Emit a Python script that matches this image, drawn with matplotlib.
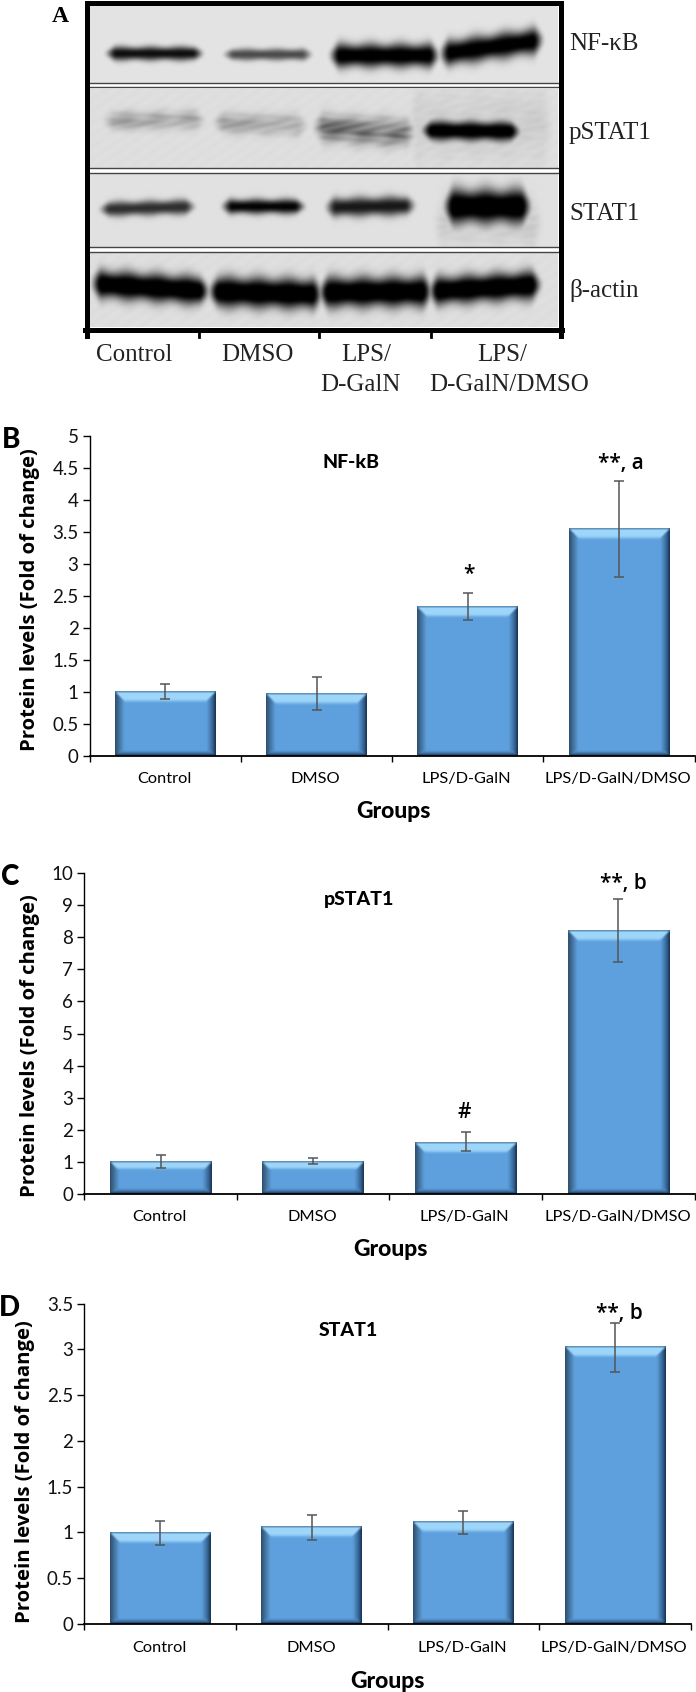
import matplotlib
matplotlib.use("Agg")
import matplotlib.pyplot as plt
import numpy as np

W, H = 696, 1692

# bar panels
groups = ["Control", "DMSO", "LPS/D-GalN", "LPS/D-GalN/DMSO"]
nfkb = [1.0, 0.97, 2.33, 3.55]
nfkb_hi = [1.12, 1.23, 2.55, 4.30]
nfkb_lo = [0.89, 0.72, 2.13, 2.80]
pstat = [1.0, 1.0, 1.62, 8.21]
pstat_hi = [1.20, 1.10, 1.93, 9.19]
pstat_lo = [0.80, 0.92, 1.33, 7.22]
stat = [1.0, 1.06, 1.115, 3.03]
stat_hi = [1.13, 1.19, 1.24, 3.29]
stat_lo = [0.865, 0.92, 0.985, 2.755]
nfkb_ticks = [0, 0.5, 1, 1.5, 2, 2.5, 3, 3.5, 4, 4.5, 5]
pstat_ticks = list(range(11))
stat_ticks = [0, 0.5, 1, 1.5, 2, 2.5, 3, 3.5]

# blot bands: lane start, lane end, y left, y right, half height, darkness
nfkb_bands = [(102, 206, 53, 53, 6.5, .95), (220, 315, 54, 54, 5.5, .68),
              (326, 442, 55, 55, 11, 1.1), (436, 546, 54, 39, 12, 1.1)]
pstat_bands = [(100, 208, 120, 120, 9, .24), (210, 310, 122, 125, 10, .24),
               (310, 418, 127, 133, 13, .45), (405, 555, 125, 125, 36, .07),
               (418, 523, 130, 131, 9, 1.15)]
stat_bands = [(96, 198, 209, 206, 7, .8), (218, 308, 206, 206, 7, 1.0),
              (322, 418, 207, 205, 9, .9), (430, 545, 222, 222, 24, .09),
              (440, 534, 206, 206, 16, 1.2)]
actin_bands = [(88, 212, 283, 291, 13, 1.2), (205, 325, 291, 294, 14, 1.2),
               (315, 435, 292, 291, 14, 1.2), (425, 544, 291, 284, 13, 1.2)]
# strip top, strip bottom, background grey
strips = [(6, 83, .89, nfkb_bands), (89, 168, .87, pstat_bands),
          (174, 247, .88, stat_bands), (253, 327, .87, actin_bands)]
lane_ticks = [87.5, 199, 319, 430.5, 561]


def smooth(t):
    t = np.clip(t, 0, 1)
    return t * t * (3 - 2 * t)


def blur(a, n=2):
    # repeated 3x3 box filter, works on 2d and on rgb arrays
    for _ in range(n):
        p = np.pad(a, [(1, 1), (1, 1)] + [(0, 0)] * (a.ndim - 2), mode="edge")
        a = sum(p[1 + dy:p.shape[0] - 1 + dy, 1 + dx:p.shape[1] - 1 + dx]
                for dy in (-1, 0, 1) for dx in (-1, 0, 1)) / 9
    return a


plt.rcParams['font.family'] = ['Lato', 'DejaVu Sans']
fig = plt.figure(figsize=(W / 100, H / 100), dpi=100)

# full page axes in pixels, for the blot and its labels
page = fig.add_axes([0, 0, 1, 1])
page.set_xlim(0, W)
page.set_ylim(H, 0)
page.axis("off")

x0, x1 = 89, 558
for top, bottom, grey, bands in strips:
    yy, xx = np.mgrid[top:bottom, x0:x1].astype(float)
    # mottled film texture
    tex = (np.sin(xx * 0.9 + yy * 1.7) + np.sin(xx * 2.3 - yy * 0.8)
           + np.sin(xx * 0.37 + yy * 0.53)) / 3
    patches = np.sin(xx * 0.13 + np.sin(yy * 0.3) * 2) * np.sin(yy * 0.41 + xx * 0.07)
    dens = np.zeros_like(xx)
    for a, b, ya, yb, hh, d in bands:
        yc = ya + (yb - ya) * (xx - a) / (b - a)
        along = smooth((xx - a) / 14) * smooth((b - xx) / 14)
        wob = 1 + 0.08 * np.sin(xx * 0.21 + a)
        across = np.exp(-(np.abs(yy - yc) / (hh * wob * (0.45 + 0.55 * along))) ** 2.4)
        mott = 1 + (0.4 * patches if d < 0.5 else 0)
        dens = np.maximum(dens, d * across * along * mott)
    dens = np.clip(dens, 0, 1)
    amount = 0.018 if grey < 0.88 else 0.004
    img = blur((grey + amount * tex) * (1 - dens))
    page.imshow(img, cmap="gray", vmin=0, vmax=1, aspect="auto",
                extent=(x0, x1, bottom, top), interpolation="bilinear", zorder=1)
page.set_xlim(0, W)
page.set_ylim(H, 0)

for y in [83.5, 87.5, 168.5, 173.5, 247.5, 252.5]:
    page.plot([x0, x1], [y, y], color="#444444", lw=1.0, zorder=2)
page.plot([86.5, 86.5, 560.5, 560.5], [336, 3, 3, 336], color="black", lw=3.6, zorder=3,
          solid_joinstyle="miter")
page.plot([85, 562], [330, 330], color="black", lw=3.6, zorder=3)
for x in lane_ticks:
    page.plot([x, x], [330, 337], color="black", lw=2, zorder=3)

serif = "Liberation Serif"
page.text(60, 17, "A", family=serif, weight="bold", fontsize=17, ha="center", va="center")
for name, y in [("NF-κB", 44), ("pSTAT1", 133), ("STAT1", 214), ("β-actin", 290)]:
    page.text(569, y, name, family=serif, fontsize=18, ha="left", va="center", color="#222222")
for name, x, y in [("Control", 134, 355), ("DMSO", 257, 355), ("LPS/", 366, 355),
                   ("D-GalN", 360, 385), ("LPS/", 502, 355), ("D-GalN/DMSO", 509, 385)]:
    page.text(x, y, name, family=serif, fontsize=18, ha="center", va="center", color="#222222")


def bevel_image(w, h):
    # shaded bar face: dark sides and foot, light band under the top edge
    base = np.array([0.37, 0.63, 0.87])
    light = np.array([0.62, 0.84, 0.98])
    dark = np.array([0.08, 0.19, 0.32])
    img = np.ones((h, w, 3)) * base
    side = 9
    top = min(11, max(6, h // 4))
    foot = 5
    for j in range(h):
        for i in range(w):
            d_l, d_r, d_t, d_b = i, w - 1 - i, j, h - 1 - j
            if d_t < top and d_t <= min(d_l, d_r):
                f = 1 if d_t < top * 0.7 else (top - d_t) / (top * 0.3)
                img[j, i] = base + (light - base) * f
                if d_t == 0:
                    img[j, i] = base * 0.7
            elif d_b < foot and d_b <= min(d_l, d_r):
                img[j, i] = dark + (base - dark) * (d_b / foot) ** 0.7
            elif d_r < side:
                img[j, i] = dark + (base - dark) * (d_r / side) ** 0.7
            elif d_l < side:
                img[j, i] = base * 0.5 + base * 0.5 * (d_l / side)
    return blur(img, 1)


def panel(box, vals, hi, lo, ticks, ymax, title, title_xy, letter, letter_xy,
          notes, lab_xy, groups_xy, tick_y):
    left, right, top, bottom = box
    ax = fig.add_axes([left / W, 1 - bottom / H, (right - left) / W, (bottom - top) / H])
    ax.patch.set_alpha(0)
    pos = np.arange(4)
    bars = ax.bar(pos, vals, width=0.665, color="#5C9EDE", zorder=2)
    scale = (bottom - top) / ymax
    px_w = (right - left) / 4
    for b in bars:
        w_px = int(round(b.get_width() * px_w))
        h_px = int(round(b.get_height() * scale))
        ax.imshow(bevel_image(w_px, h_px), aspect="auto", zorder=2.5, interpolation="bilinear",
                  extent=(b.get_x(), b.get_x() + b.get_width(), 0, b.get_height()))
    low = np.array(vals) - np.array(lo)
    high = np.array(hi) - np.array(vals)
    ax.errorbar(pos, vals, yerr=[low, high], fmt="none", ecolor="#555555", elinewidth=1.1,
                capsize=3.6, capthick=1.1, zorder=3)
    ax.set_xlim(-0.5, 3.5)
    ax.set_ylim(0, ymax)
    ax.set_yticks(ticks)
    ax.set_yticklabels([f"{t:g}" for t in ticks], fontsize=13.5, color="#111111")
    ax.set_xticks(np.arange(5) - 0.5)
    ax.set_xticklabels([])
    ax.tick_params(axis="y", length=5, width=1, pad=3)
    ax.tick_params(axis="x", length=4.5, width=1)
    for s in ["top", "right"]:
        ax.spines[s].set_visible(False)
    ax.spines["bottom"].set_linewidth(1.3)
    ax.spines["left"].set_linewidth(1)
    for i, g in enumerate(groups):
        page.text(left + (i + 0.5) * px_w - 1, tick_y, g, fontsize=11.8, ha="center", va="center",
                  color="black")
    page.text(title_xy[0], title_xy[1], title, fontsize=14, weight="black", ha="center", va="center")
    page.text(letter_xy[0], letter_xy[1], letter, fontsize=20, weight="black", ha="center", va="center")
    for txt, x, y in notes:
        page.text(x, y, txt, family="Open Sans", fontsize=15, ha="center", va="center", weight="semibold")
    page.text(lab_xy[0], lab_xy[1], "Protein levels (Fold of change)", family="Open Sans", fontsize=14.6,
              weight="bold", rotation=90, ha="center", va="center")
    page.text(groups_xy[0], groups_xy[1], "Groups", fontsize=16.5, weight="black", ha="center", va="center")


panel((89.7, 694.6, 435.7, 756.3), nfkb, nfkb_hi, nfkb_lo, nfkb_ticks, 5, "NF-kB", (351.5, 462),
      "B", (11, 440), [("*", 469, 575), ("**, a", 621, 464)], (30, 600), (393, 811), 779)
panel((84.3, 694.6, 873.3, 1193.7), pstat, pstat_hi, pstat_lo, pstat_ticks, 10, "pSTAT1", (358.6, 900),
      "C", (10.6, 877), [("#", 464.7, 1112.7), ("**, b", 623, 883)], (30, 1046), (390, 1250), 1217)
panel((84.3, 691, 1303.7, 1624), stat, stat_hi, stat_lo, stat_ticks, 3.5, "STAT1", (348, 1330),
      "D", (9, 1308), [("**, b", 619, 1314)], (25, 1472), (387.5, 1681), 1648)

fig.savefig("out.png", dpi=100)
